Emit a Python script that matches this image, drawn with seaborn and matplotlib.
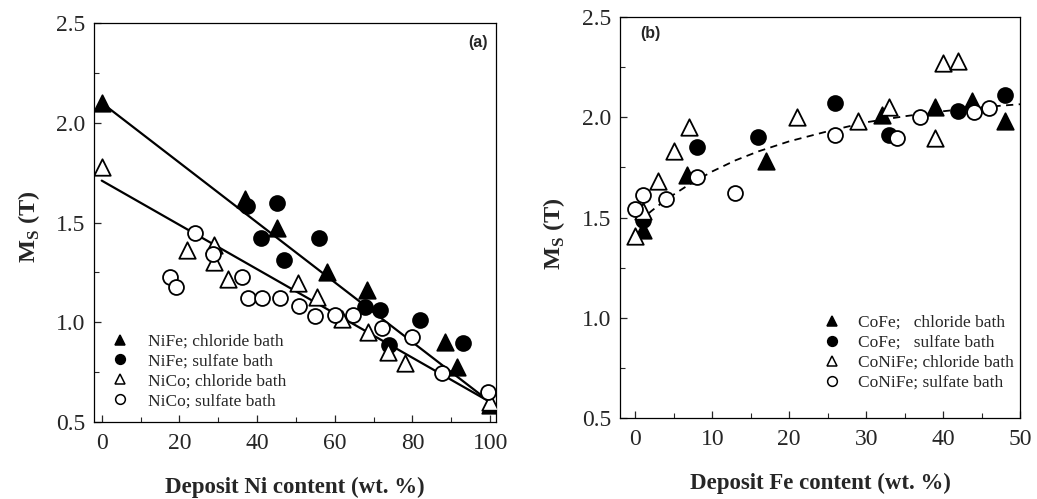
import numpy as np
import pandas as pd
import matplotlib
matplotlib.use("Agg")
import matplotlib.pyplot as plt
from matplotlib.lines import Line2D
from matplotlib.ticker import MultipleLocator
import seaborn as sns

# ---------------------------
# 1. DATA
# ---------------------------
# panel (a): Ms vs deposit Ni content
nife_cl_x = [0, 37, 45, 58, 68.3, 88.4, 91.5, 100]
nife_cl_y = [2.10, 1.62, 1.47, 1.25, 1.16, 0.90, 0.775, 0.585]
nife_so_x = [37.5, 45, 41, 56, 47, 67.8, 71.6, 74, 82, 93]
nife_so_y = [1.585, 1.60, 1.42, 1.42, 1.31, 1.075, 1.06, 0.885, 1.01, 0.895]
nico_cl_x = [0, 22, 29, 29, 32.6, 50.6, 55.3, 61.8, 68.6, 73.7, 78, 100]
nico_cl_y = [1.78, 1.36, 1.385, 1.30, 1.215, 1.195, 1.125, 1.015, 0.95, 0.85, 0.795, 0.60]
nico_so_x = [17.7, 19, 24, 28.7, 36, 37.7, 41.2, 45.9, 50.8, 54.9, 60, 64.7, 72.1, 80, 87.6, 99.5]
nico_so_y = [1.225, 1.175, 1.445, 1.34, 1.225, 1.12, 1.12, 1.12, 1.08, 1.03, 1.035, 1.035,
             0.97, 0.925, 0.745, 0.65]

# linear fits drawn in (a)
fit_ni_x = [0, 100]
fit_nife_y = [2.10, 0.60]
fit_nico_y = [1.71, 0.60]

# panel (b): Ms vs deposit Fe content
cofe_cl_x = [1, 6.7, 17, 32, 39, 43.8, 48]
cofe_cl_y = [1.44, 1.71, 1.78, 2.01, 2.05, 2.08, 1.98]
cofe_so_x = [1, 8, 16, 26, 33, 42, 48]
cofe_so_y = [1.49, 1.85, 1.90, 2.07, 1.91, 2.03, 2.11]
conife_cl_x = [0, 1, 3, 5, 7, 21, 29, 33, 39, 40, 42]
conife_cl_y = [1.41, 1.53, 1.68, 1.83, 1.95, 2.00, 1.98, 2.05, 1.895, 2.27, 2.28]
conife_so_x = [0, 1, 4, 8, 13, 26, 34, 37, 44, 46]
conife_so_y = [1.54, 1.61, 1.59, 1.70, 1.62, 1.91, 1.895, 2.00, 2.025, 2.045]

# dashed trend curve in (b)
fit_fe_x = [0.5, 2, 4, 7, 10, 13, 16, 20, 25, 30, 35, 40, 45, 50]
fit_fe_y = [1.48, 1.53, 1.59, 1.665, 1.73, 1.785, 1.83, 1.88, 1.93, 1.975, 2.005, 2.03, 2.05, 2.065]

labels_a = ["NiFe; chloride bath", "NiFe; sulfate bath", "NiCo; chloride bath", "NiCo; sulfate bath"]
labels_b = ["CoFe;   chloride bath", "CoFe;   sulfate bath", "CoNiFe; chloride bath", "CoNiFe; sulfate bath"]

# ---------------------------
# 2. STYLE
# ---------------------------
sns.set_theme(style="ticks")
plt.rcParams["font.family"] = ["Liberation Serif", "DejaVu Serif"]
plt.rcParams["mathtext.fontset"] = "custom"
plt.rcParams["mathtext.rm"] = "Liberation Serif"
plt.rcParams["mathtext.bf"] = "Liberation Serif:bold"
plt.rcParams["axes.linewidth"] = 0.9

# marker styles for the four series: (marker, face, size)
styles = [("^", "black", 140), ("o", "black", 115), ("^", "white", 140), ("o", "white", 115)]

fig = plt.figure(figsize=(10.37, 4.99), dpi=100)
ax_a = fig.add_axes([0.0906, 0.1543, 0.3877, 0.7996])
ax_b = fig.add_axes([0.5979, 0.1623, 0.3857, 0.8036])


def draw_points(ax, xs, ys):
    for (m, fc, s), x, y in zip(styles, xs, ys):
        sns.scatterplot(x=x, y=y, ax=ax, marker=m, s=s, color=fc,
                        edgecolor="black", linewidth=1.3, zorder=3, legend=False)


def style_axes(ax, xmaj, xmin):
    ax.set_ylim(0.5, 2.5)
    ax.yaxis.set_major_locator(MultipleLocator(0.5))
    ax.yaxis.set_minor_locator(MultipleLocator(0.25))
    ax.xaxis.set_major_locator(MultipleLocator(xmaj))
    ax.xaxis.set_minor_locator(MultipleLocator(xmin))
    ax.yaxis.set_major_formatter(matplotlib.ticker.FormatStrFormatter("%.1f"))
    ax.tick_params(which="major", direction="in", length=5, width=0.9, labelsize=17, pad=6)
    ax.tick_params(which="minor", direction="in", length=3.5, width=0.8)
    ax.tick_params(axis="x", which="major", pad=8)
    for sp in ax.spines.values():
        sp.set_visible(True)
        sp.set_color("black")
    ax.set_ylabel(r"M$_\mathbf{S}$ (T)", fontsize=17.5, fontweight="bold")


def add_legend(ax, labels, anchor, pad):
    handles = [Line2D([], [], linestyle="none", marker=m, markersize=7,
                      markerfacecolor=fc, markeredgecolor="black", markeredgewidth=1.1)
               for m, fc, s in styles]
    ax.legend(handles, labels, loc="upper left", bbox_to_anchor=anchor, frameon=False,
              fontsize=12.5, handlelength=1.0, handletextpad=pad, labelspacing=0.22,
              borderpad=0, borderaxespad=0)


# ---------------------------
# 3. PANEL (a)
# ---------------------------
sns.lineplot(x=fit_ni_x, y=fit_nife_y, ax=ax_a, color="black", linewidth=1.6, zorder=2)
sns.lineplot(x=fit_ni_x, y=fit_nico_y, ax=ax_a, color="black", linewidth=1.6, zorder=2)
draw_points(ax_a, [nife_cl_x, nife_so_x, nico_cl_x, nico_so_x],
            [nife_cl_y, nife_so_y, nico_cl_y, nico_so_y])
ax_a.set_xlim(-2, 101.5)
style_axes(ax_a, 20, 10)
ax_a.set_xlabel("Deposit Ni content (wt. %)", fontsize=16.5, fontweight="bold", labelpad=16)
ax_a.yaxis.set_label_coords(-0.128, 0.49)
add_legend(ax_a, labels_a, (0.042, 0.222), 1.15)
ax_a.text(0.955, 0.952, "(a)", transform=ax_a.transAxes, ha="center", va="center",
          fontsize=11.5, fontweight="bold", family=["Liberation Sans", "DejaVu Sans"])

# ---------------------------
# 4. PANEL (b)
# ---------------------------
sns.lineplot(x=fit_fe_x, y=fit_fe_y, ax=ax_b, color="black", linewidth=1.3,
             linestyle=(0, (4, 3)), zorder=2)
draw_points(ax_b, [cofe_cl_x, cofe_so_x, conife_cl_x, conife_so_x],
            [cofe_cl_y, cofe_so_y, conife_cl_y, conife_so_y])
ax_b.set_xlim(-2, 50)
style_axes(ax_b, 10, 5)
ax_b.set_xlabel("Deposit Fe content (wt. %)", fontsize=16.5, fontweight="bold", labelpad=16)
ax_b.yaxis.set_label_coords(-0.132, 0.46)
add_legend(ax_b, labels_b, (0.509, 0.258), 1.0)
ax_b.text(0.075, 0.96, "(b)", transform=ax_b.transAxes, ha="center", va="center",
          fontsize=11.5, fontweight="bold", family=["Liberation Sans", "DejaVu Sans"])

plt.savefig("out.png", dpi=100)
